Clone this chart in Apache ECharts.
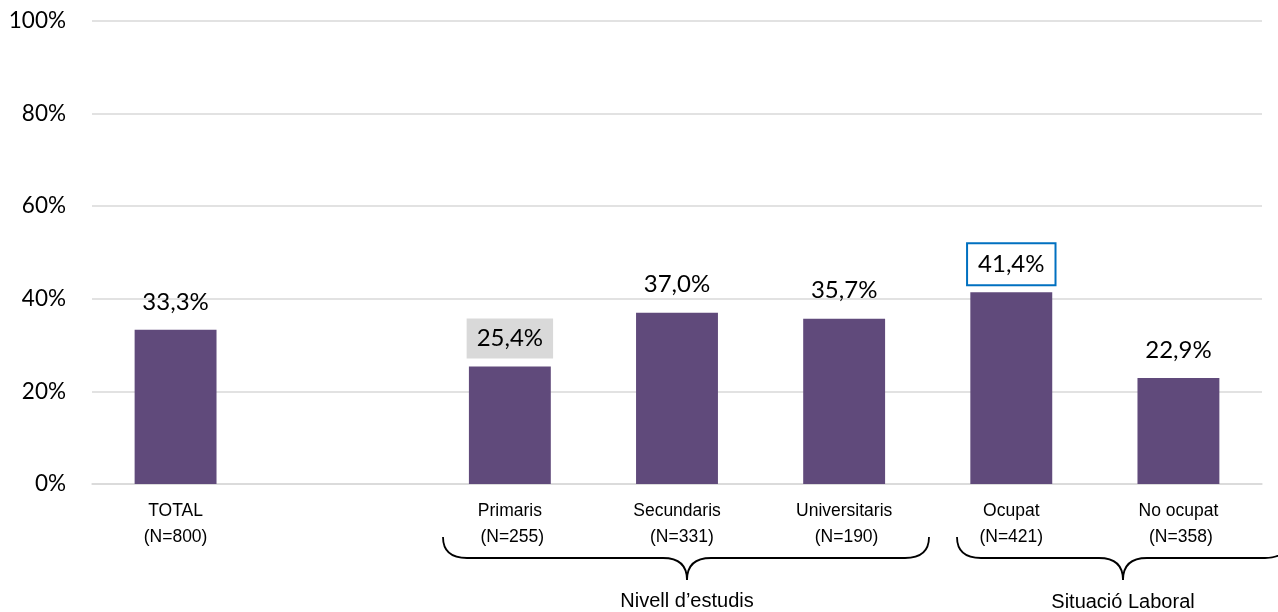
<!DOCTYPE html>
<html>
<head>
<meta charset="utf-8">
<script src="https://cdn.jsdelivr.net/npm/echarts@6/dist/echarts.min.js"></script>
<style>
html,body{margin:0;padding:0;background:#fff;}
#chart{width:1278px;height:612px;}
</style>
</head>
<body>
<div id="chart"></div>
<script>
// ---- Data ----
var categories = ['TOTAL', '', 'Primaris', 'Secundaris', 'Universitaris', 'Ocupat', 'No ocupat'];
var sampleSizes = ['(N=800)', '', ' (N=255)', '  (N=331)', ' (N=190)', '(N=421)', ' (N=358)'];
var values = [33.3, null, 25.4, 37.0, 35.7, 41.4, 22.9];
var yTicks = [0, 20, 40, 60, 80, 100];
var groupLabels = ['Nivell d\u2019estudis', 'Situaci\u00f3 Laboral'];

// ---- Styles ----
var barColor = '#604a7b';
var labelFont = 'Lato, "Open Sans", sans-serif';
var catFont = '"Liberation Sans", Arial, sans-serif';
var highlight = {
  2: { backgroundColor: '#d9d9d9' },
  5: { backgroundColor: '#ffffff', borderColor: '#0070c0', borderWidth: 2 }
};

var catLabels = categories.map(function (c, i) {
  return c === '' ? '' : c + '\n' + sampleSizes[i];
});

var seriesData = values.map(function (v, i) {
  var item = { value: v === null ? '-' : v };
  if (highlight[i]) item.label = highlight[i];
  return item;
});

var chart = echarts.init(document.getElementById('chart'));

function brace(x1, xm, x2, yTop, yMid, yTip, r) {
  var s = { stroke: '#000', lineWidth: 1.8, fill: null };
  return [
    { type: 'bezierCurve', shape: { x1: x1, y1: yTop, cpx1: x1, cpy1: yMid, x2: x1 + r, y2: yMid }, style: s },
    { type: 'line', shape: { x1: x1 + r, y1: yMid, x2: xm - r, y2: yMid }, style: s },
    { type: 'bezierCurve', shape: { x1: xm - r, y1: yMid, cpx1: xm, cpy1: yMid, x2: xm, y2: yTip }, style: s },
    { type: 'bezierCurve', shape: { x1: xm, y1: yTip, cpx1: xm, cpy1: yMid, x2: xm + r, y2: yMid }, style: s },
    { type: 'line', shape: { x1: xm + r, y1: yMid, x2: x2 - r, y2: yMid }, style: s },
    { type: 'bezierCurve', shape: { x1: x2 - r, y1: yMid, cpx1: x2, cpy1: yMid, x2: x2, y2: yTop }, style: s }
  ];
}

var graphics = []
  .concat(brace(443, 687, 929, 537, 558, 580, 24))
  .concat(brace(957, 1123, 1289, 537, 558, 580, 24))
  .concat([
    { type: 'text', x: 687, y: 601, style: { text: groupLabels[0], font: '20px ' + catFont, fill: '#000', textAlign: 'center', textVerticalAlign: 'middle' } },
    { type: 'text', x: 1123, y: 602, style: { text: groupLabels[1], font: '20px ' + catFont, fill: '#000', textAlign: 'center', textVerticalAlign: 'middle' } }
  ]);

chart.setOption({
  animation: false,
  backgroundColor: '#fff',
  grid: { left: 92, right: 16, top: 21, bottom: 128, containLabel: false },
  xAxis: {
    type: 'category',
    data: catLabels,
    axisLine: { show: true, lineStyle: { color: '#d9d9d9', width: 1.5 } },
    axisTick: { show: false },
    axisLabel: {
      interval: 0,
      margin: 14,
      color: '#000',
      fontFamily: catFont,
      fontSize: 17.5,
      lineHeight: 26
    }
  },
  yAxis: {
    type: 'value',
    min: yTicks[0],
    max: yTicks[yTicks.length - 1],
    interval: yTicks[1] - yTicks[0],
    axisLine: { show: false },
    axisTick: { show: false },
    axisLabel: {
      formatter: '{value}%',
      margin: 26,
      color: '#000',
      fontFamily: labelFont,
      fontSize: 22.5
    },
    splitLine: { lineStyle: { color: '#d9d9d9', width: 1.5 } }
  },
  series: [{
    type: 'bar',
    data: seriesData,
    barWidth: '49%',
    itemStyle: { color: barColor },
    label: {
      show: true,
      position: 'top',
      distance: 8,
      padding: [9, 10],
      color: '#000',
      fontFamily: labelFont,
      fontSize: 24,
      lineHeight: 22,
      formatter: function (p) {
        return p.value.toFixed(1).replace('.', ',') + '%';
      }
    }
  }],
  graphic: graphics
});
</script>
</body>
</html>
